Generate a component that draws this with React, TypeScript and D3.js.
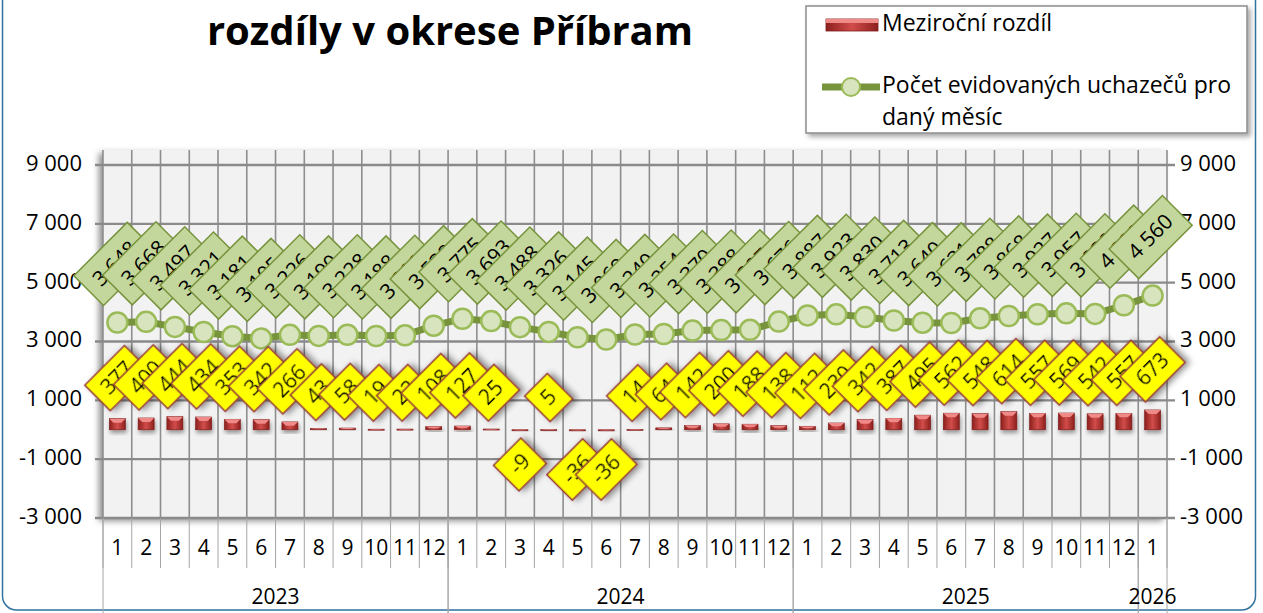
import React from "react";
import * as d3 from "d3";

// měsíce 2023-01 .. 2026-01
const monthLabels = [
  "1", "2", "3", "4", "5", "6", "7", "8", "9", "10", "11", "12",
  "1", "2", "3", "4", "5", "6", "7", "8", "9", "10", "11", "12",
  "1", "2", "3", "4", "5", "6", "7", "8", "9", "10", "11", "12",
  "1",
];
const yearLabels = ["2023", "2024", "2025", "2026"];
const yearCounts = [12, 12, 12, 1];

// Počet evidovaných uchazečů pro daný měsíc
const uchazeci = [
  3648, 3668, 3497, 3321, 3181, 3105, 3226, 3190, 3228, 3188, 3209, 3538,
  3775, 3693, 3488, 3326, 3145, 3069, 3240, 3254, 3370, 3388, 3397, 3676,
  3887, 3923, 3830, 3713, 3640, 3631, 3788, 3868, 3927, 3957, 3939, 4233,
  4560,
];
// Meziroční rozdíl
const rozdil = [
  377, 400, 444, 434, 353, 342, 266, 43, 58, 19, 22, 108,
  127, 25, -9, 5, -36, -36, 14, 64, 142, 200, 188, 138,
  112, 230, 342, 387, 495, 562, 548, 614, 557, 569, 542, 557,
  673,
];
const yTicks = [-3000, -1000, 1000, 3000, 5000, 7000, 9000];

const W = 1263;
const H = 613;
const FONT = "'Open Sans', 'Noto Sans', sans-serif";

const plot = { left: 103, right: 1167, top: 150, bottom: 518 };

const fmt = (v: number) => {
  const s = Math.abs(v).toString().replace(/\B(?=(\d{3})+(?!\d))/g, " ");
  return (v < 0 ? "-" : "") + s;
};

// rough text width for Open Sans
const textW = (s: string, size: number) => {
  let w = 0;
  for (const c of s) {
    if (c === " ") w += 0.26;
    else if (c === "-") w += 0.32;
    else w += 0.572;
  }
  return w * size;
};

const App = () => {
  const idx = d3.range(monthLabels.length);
  const x = d3
    .scaleBand<number>()
    .domain(idx)
    .range([plot.left, plot.right])
    .padding(0);
  const y = d3.scaleLinear().domain([-3000, 9000]).range([518, 165]);
  const bw = x.bandwidth();
  const cx = (i: number) => (x(i) as number) + bw / 2;

  const line = d3
    .line<number>()
    .x((_, i) => cx(i))
    .y((d) => y(d));

  const labelFont = 21;

  // year boundaries
  let acc = 0;
  const yearBlocks = yearLabels.map((yr, k) => {
    const start = acc;
    acc += yearCounts[k];
    return { yr, start, end: acc };
  });

  return (
    <div style={{ position: "fixed", left: 0, top: 0 }}>
      <svg width={W} height={H} style={{ display: "block", fontFamily: FONT }}>
        <defs>
          <filter id="plotShadow" x="-5%" y="-5%" width="110%" height="110%">
            <feDropShadow dx="-4" dy="3" stdDeviation="3" floodColor="#000" floodOpacity="0.45" />
          </filter>
          <filter id="lblShadow" x="-30%" y="-30%" width="160%" height="160%">
            <feDropShadow dx="3" dy="3" stdDeviation="3" floodColor="#000" floodOpacity="0.45" />
          </filter>
          <filter id="barShadow" x="-50%" y="-50%" width="200%" height="200%">
            <feDropShadow dx="1" dy="3" stdDeviation="2" floodColor="#000" floodOpacity="0.4" />
          </filter>
          <filter id="legShadow" x="-5%" y="-10%" width="110%" height="120%">
            <feDropShadow dx="3" dy="3" stdDeviation="2.5" floodColor="#000" floodOpacity="0.35" />
          </filter>
          <linearGradient id="barGrad" x1="0" x2="1" y1="0" y2="0">
            <stop offset="0" stopColor="#8c1f1d" />
            <stop offset="0.5" stopColor="#d24d4a" />
            <stop offset="1" stopColor="#8c1f1d" />
          </linearGradient>
        </defs>

        <rect x={0} y={0} width={W} height={H} fill="#fff" />
        {/* outer chart border */}
        <rect x={2.5} y={-20} width={1253} height={630} rx={14} fill="none" stroke="#31729f" strokeWidth={1.5} />

        {/* title */}
        <text x={450} y={45} textAnchor="middle" fontSize={40} fontWeight="bold" fill="#000">
          rozdíly v okrese Příbram
        </text>

        {/* legend */}
        <rect x={806} y={6} width={441} height={127} fill="#fff" stroke="#8c8c8c" strokeWidth={1.5} filter="url(#legShadow)" />
        <rect x={826} y={19} width={52} height={12} fill="url(#barGrad)" stroke="#7b1a18" strokeWidth={0.8} />
        <rect x={826} y={19} width={52} height={4} fill="#f08a88" />
        <text x={882} y={25} dominantBaseline="middle" fontSize={23}>Meziroční rozdíl</text>
        <line x1={822} x2={880} y1={87} y2={87} stroke="#77933c" strokeWidth={7} />
        <circle cx={851} cy={87} r={9} fill="#d7e4bd" stroke="#9bbb59" strokeWidth={2} />
        <text x={882} y={87} dominantBaseline="middle" fontSize={23}>Počet evidovaných uchazečů pro</text>
        <text x={882} y={119} dominantBaseline="middle" fontSize={23}>daný měsíc</text>

        {/* plot area */}
        <rect
          x={plot.left}
          y={plot.top}
          width={plot.right - plot.left}
          height={plot.bottom - plot.top}
          fill="#f2f2f2"
          filter="url(#plotShadow)"
        />
        {/* vertical gridlines */}
        {d3.range(monthLabels.length + 1).map((i) => {
          const gx = plot.left + i * bw;
          return (
            <line key={"v" + i} x1={gx} x2={gx} y1={plot.top} y2={plot.bottom} stroke="#8e8e8e" strokeWidth={1.6} />
          );
        })}
        {/* horizontal gridlines */}
        {yTicks.map((t) => (
          <line key={"h" + t} x1={plot.left - 8} x2={plot.right + 8} y1={y(t)} y2={y(t)} stroke="#8a8a8a" strokeWidth={2.4} />
        ))}

        {/* y axes labels */}
        {yTicks.map((t) => (
          <g key={"yl" + t}>
            <text x={82} y={y(t)} textAnchor="end" dominantBaseline="middle" fontSize={22}>
              {fmt(t)}
            </text>
            <text x={1180} y={y(t)} textAnchor="start" dominantBaseline="middle" fontSize={22}>
              {fmt(t)}
            </text>
          </g>
        ))}

        {/* category axis */}
        {d3.range(monthLabels.length + 1).map((i) => {
          const gx = plot.left + i * bw;
          return <line key={"mt" + i} x1={gx} x2={gx} y1={plot.bottom} y2={568} stroke="#a6a6a6" strokeWidth={1} />;
        })}
        {monthLabels.map((m, i) => (
          <text key={"m" + i} x={cx(i)} y={549} textAnchor="middle" dominantBaseline="middle" fontSize={21}>
            {m}
          </text>
        ))}
        {yearBlocks.map((b) => (
          <g key={"yr" + b.yr}>
            <line x1={plot.left + b.start * bw} x2={plot.left + b.start * bw} y1={plot.bottom} y2={H} stroke="#a6a6a6" strokeWidth={1} />
            <line x1={plot.left + b.end * bw} x2={plot.left + b.end * bw} y1={plot.bottom} y2={H} stroke="#a6a6a6" strokeWidth={1} />
            <text x={plot.left + ((b.start + b.end) / 2) * bw} y={598} textAnchor="middle" dominantBaseline="middle" fontSize={21}>
              {b.yr}
            </text>
          </g>
        ))}

        {/* bars */}
        {rozdil.map((v, i) => {
          const bx = cx(i) - 8;
          const y0 = y(0);
          const y1 = y(v);
          const top = Math.min(y0, y1);
          const h = Math.max(Math.abs(y1 - y0), 1);
          const bev = Math.min(4, h / 2);
          return (
            <g key={"b" + i} filter="url(#barShadow)">
              <rect x={bx} y={top} width={16} height={h} fill="url(#barGrad)" stroke="#7b1a18" strokeWidth={0.6} />
              <polygon
                points={`${bx},${top} ${bx + 16},${top} ${bx + 12},${top + bev} ${bx + 4},${top + bev}`}
                fill="#f08a88"
              />
            </g>
          );
        })}

        {/* line */}
        <path d={line(uchazeci) || ""} fill="none" stroke="#77933c" strokeWidth={7} />
        {uchazeci.map((v, i) => (
          <circle key={"c" + i} cx={cx(i)} cy={y(v)} r={10} fill="#d7e4bd" stroke="#9bbb59" strokeWidth={2.5} />
        ))}

        {/* line labels */}
        {uchazeci.map((v, i) => {
          const s = fmt(v);
          const w = textW(s, labelFont) + 22;
          const h = 42;
          const off = (w + h) / 2 / Math.SQRT2 + 17;
          const lx = cx(i) - 2;
          const ly = y(v) - off;
          return (
            <g key={"gl" + i} transform={`translate(${lx},${ly}) rotate(-45)`}>
              <rect x={-w / 2} y={-h / 2} width={w} height={h} fill="#c3d69b" stroke="#77933c" strokeWidth={1.5} />
              <text x={0} y={1} textAnchor="middle" dominantBaseline="middle" fontSize={labelFont}>
                {s}
              </text>
            </g>
          );
        })}

        {/* bar labels */}
        {rozdil.map((v, i) => {
          const s = fmt(v);
          const w = textW(s, labelFont) + 20;
          const h = 36;
          const off = (w + h) / 2 / Math.SQRT2 + 8;
          const lx = cx(i);
          const ly = v >= 0 ? y(v) - off : y(v) + off;
          return (
            <g key={"yl" + i} transform={`translate(${lx},${ly}) rotate(-45)`} filter="url(#lblShadow)">
              <rect x={-w / 2} y={-h / 2} width={w} height={h} fill="#ffff00" stroke="#953735" strokeWidth={1.5} />
              <text x={0} y={1} textAnchor="middle" dominantBaseline="middle" fontSize={labelFont}>
                {s}
              </text>
            </g>
          );
        })}
      </svg>
    </div>
  );
};

export default App;
